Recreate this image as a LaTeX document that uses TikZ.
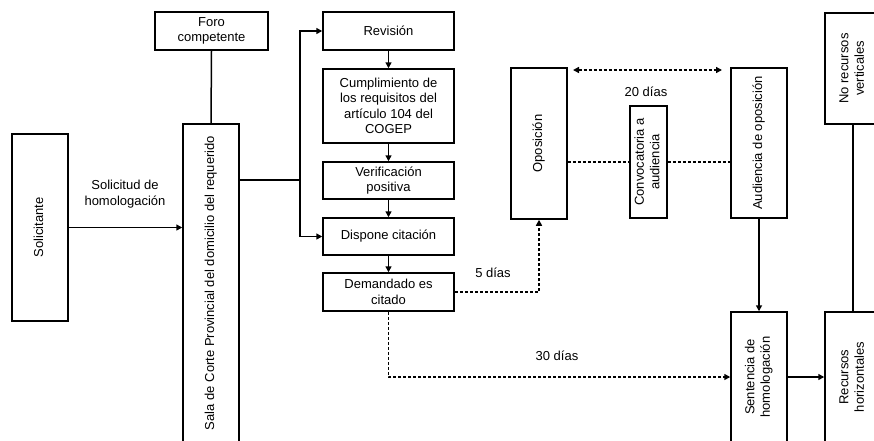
\documentclass[tikz,border=0pt]{standalone}
\usepackage{fontspec}
\usepackage{graphicx}
\setmainfont{Liberation Sans}
\usetikzlibrary{arrows.meta}
\newcommand{\rtext}[1]{\rotatebox{90}{\begin{tabular}{@{}c@{}}#1\end{tabular}}}
\begin{document}
\begin{tikzpicture}[x=1pt,y=-1pt,
  every node/.style={font=\fontsize{13}{15.5}\selectfont},
  box/.style={draw,line width=1.5pt,inner sep=0pt,align=center},
  conn/.style={line width=1.5pt},
  arr/.style={line width=1.5pt,-{Triangle[length=6pt,width=6pt]}},
  dsh/.style={line width=1.5pt,dash pattern=on 3pt off 2pt},
  lbl/.style={inner sep=0pt,align=center}]
\useasboundingbox (0,0) rectangle (874,440);
\clip (0,0) rectangle (874,440);
\fill[white] (0,0) rectangle (874,440);
% boxes
\node[box,minimum width=56pt,minimum height=187pt] (sol) at (40,227.5) {\rtext{Solicitante}};
\node[box,minimum width=113pt,minimum height=38pt] (foro) at (211.5,31) {Foro\\competente};
\node[box,minimum width=56pt,minimum height=318pt] (sala) at (211,283) {\rtext{Sala de Corte Provincial del domicilio del requerido}};
\node[box,minimum width=131pt,minimum height=38pt] (rev) at (388.5,31) {Revisión};
\node[box,minimum width=131pt,minimum height=74pt] (cump) at (388.5,106) {Cumplimiento de\\los requisitos del\\artículo 104 del\\COGEP};
\node[box,minimum width=131pt,minimum height=37pt] (ver) at (388.5,180.5) {Verificación\\positiva};
\node[box,minimum width=131pt,minimum height=37pt] (disp) at (388.5,236.5) {Dispone citación};
\node[box,minimum width=131pt,minimum height=38pt] (dem) at (388.5,292) {Demandado es\\citado};
\node[box,minimum width=56pt,minimum height=151pt] (opos) at (539,143.5) {\rtext{Oposición}};
\node[box,minimum width=37pt,minimum height=112pt] (conv) at (648.5,162) {\rtext{Convocatoria a\\audiencia}};
\node[box,minimum width=56pt,minimum height=150pt] (aud) at (759,143) {\rtext{Audiencia de oposición}};
\node[box,minimum width=56pt,minimum height=130pt] (sent) at (759,377) {\rtext{Sentencia de\\homologación}};
\node[box,minimum width=56pt,minimum height=130pt] (rec) at (853,377) {\rtext{Recursos\\horizontales}};
\node[box,minimum width=56pt,minimum height=111pt] (norec) at (853,68.5) {\rtext{No recursos\\verticales}};
% labels
\node[lbl] (lsol) at (125,194) {Solicitud de\\homologación};
\node[lbl] (l5) at (493,273) {5 días};
\node[lbl] (l30) at (557,356) {30 días};
\node[lbl] (l20) at (646,92) {20 días};
% coordinates
\coordinate (j) at (300,180);
\coordinate (d1) at (573,70);
\coordinate (d2) at (722,70);
% connectors
\draw[conn] (foro.south) -- (sala.north);
\draw[arr] (sol.east) -- (sala.west |- sol.east);
\draw[conn] (sala.east |- j) -- (j);
\draw[arr] (j) |- (rev.west);
\draw[arr] (j) |- (disp.west);
\draw[arr] (rev.south) -- (cump.north);
\draw[arr] (cump.south) -- (ver.north);
\draw[arr] (ver.south) -- (disp.north);
\draw[arr] (disp.south) -- (dem.north);
\draw[dsh,-{Triangle[length=6pt,width=6pt]}] (dem.east) -| (opos.south);
\draw[dsh,-{Triangle[length=6pt,width=6pt]}] (dem.south) |- (sent.west);
\draw[dsh] (opos.east |- conv.west) -- (conv.west);
\draw[dsh] (conv.east) -- (aud.west |- conv.east);
\draw[dsh,{Triangle[length=6pt,width=6pt]}-{Triangle[length=6pt,width=6pt]}] (d1) -- (d2);
\draw[arr] (aud.south) -- (sent.north);
\draw[arr] (sent.east) -- (rec.west);
\draw[conn] (norec.south) -- (rec.north);
\end{tikzpicture}
\end{document}
